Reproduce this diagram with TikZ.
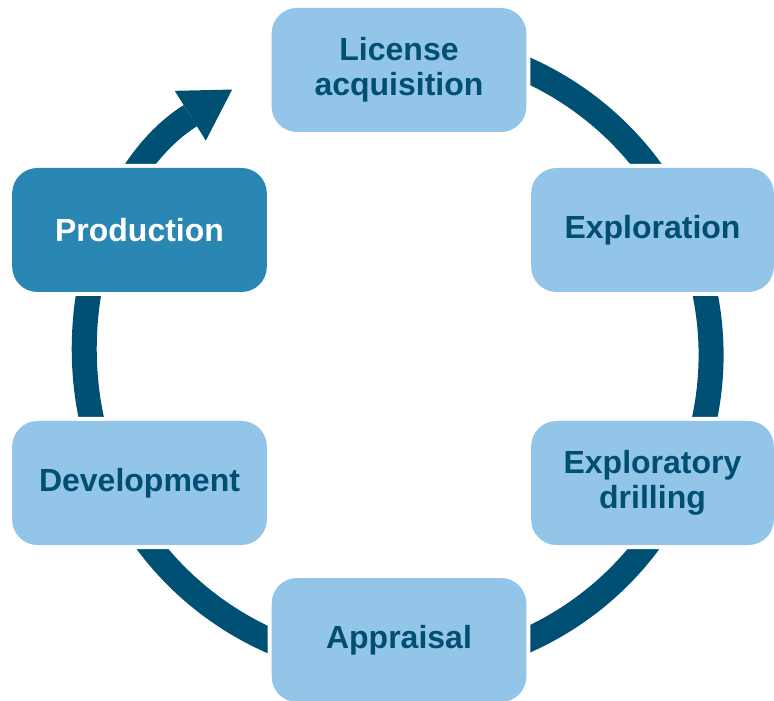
\documentclass[tikz,border=0pt]{standalone}
\usepackage{fontspec}
\setmainfont{Liberation Sans}
\usepackage{tikz}
\usetikzlibrary{arrows.meta}

\definecolor{ringblue}{HTML}{005073}
\definecolor{paleblue}{HTML}{93C5E9}
\definecolor{midblue}{HTML}{2A87B4}
\definecolor{inkblue}{HTML}{004F72}

\begin{document}
\begin{tikzpicture}[x=0.75pt, y=0.75pt, >={Triangle[length=37pt, width=44pt, line width=0pt]}]
			\tikzstyle{stage} = [rounded corners=19pt, fill=paleblue, text=inkblue, align=center,
				minimum width=191pt, minimum height=93pt, inner sep=0pt,
				font=\fontsize{24}{26}\selectfont\bfseries,
				preaction={draw=white, line width=6pt}]
			\tikzstyle{sidestage} = [stage, minimum width=182pt]
			\tikzstyle{active} = [stage, fill=midblue, text=white]
			\tikzstyle{ring} = [draw=ringblue, line width=18.75pt]
			\useasboundingbox (0,0) rectangle (774,700);

			% the cycle behind the stages
			\coordinate (hub) at (398,345);
			\draw[ring, ->] (hub) ++(110:313) arc[start angle=110, end angle=-238, radius=313];

			\begin{scope}
			\path
			node[stage] (lic) at (399,630) {License\\acquisition}
			node[sidestage] (expl) at (652.5,470) {Exploration}
			node[sidestage] (drill) at (652.5,217) {Exploratory\\drilling}
			node[stage] (appr) at (399,60) {Appraisal}
			node[stage] (dev) at (139.5,217) {Development}
			node[active] (prod) at (139.5,470) {Production}
			;
			\end{scope}

			\end{tikzpicture}
\end{document}
